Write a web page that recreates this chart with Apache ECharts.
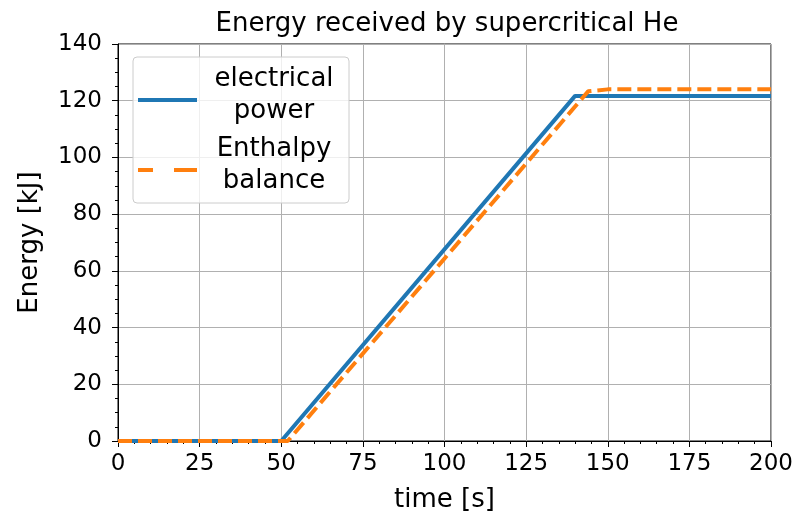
<!DOCTYPE html>
<html>
<head>
<meta charset="utf-8">
<script src="https://cdn.jsdelivr.net/npm/echarts@6/dist/echarts.min.js"></script>
<style>
  html, body { margin: 0; padding: 0; background: #fff; }
  #chart { width: 795px; height: 515px; }
</style>
</head>
<body>
<div id="chart"></div>
<script>
// values
const elecTime = [0, 50, 140, 200]
const elecEnergy = [0, 0, 121.7, 121.7]
const enthTime = [0, 52, 144, 150, 200]
const enthEnergy = [0, 0, 123.3, 124, 124]
const seriesNames = ['electrical\npower', 'Enthalpy\nbalance']

const font = 'DejaVu Sans'
const myChart = echarts.init(document.getElementById('chart'))

function pairs(xs, ys) {
  return xs.map(function(x, i) { return [x, ys[i]] })
}

const option = {
  animation: false,
  backgroundColor: '#fff',
  title: {
    text: 'Energy received by supercritical He',
    left: 442,
    textAlign: 'center',
    top: 6,
    textStyle: { fontFamily: font, fontSize: 26, fontWeight: 'normal', color: '#000' }
  },
  grid: {
    left: 118,
    right: 24,
    top: 44,
    bottom: 74,
    outerBoundsMode: 'none',
    containLabel: false,
    show: true,
    borderColor: '#000',
    borderWidth: 1
  },
  legend: {
    orient: 'vertical',
    left: 133,
    top: 57,
    padding: [6, 3, 6, 5],
    itemWidth: 59,
    itemHeight: 14,
    itemGap: 6,
    backgroundColor: 'rgba(255,255,255,0.8)',
    borderColor: '#cccccc',
    borderWidth: 1,
    borderRadius: 4,
    formatter: function(name) {
      return name.split('\n').map(function(s) { return '{t|' + s + '}' }).join('\n')
    },
    textStyle: {
      lineHeight: 32,
      rich: {
        t: { fontFamily: font, fontSize: 26, color: '#000', width: 144, align: 'center', lineHeight: 32, height: 32 }
      }
    },
    data: [
      { name: seriesNames[0], icon: 'path://M0,0H0.01V0.01H0Z M0,10H59V14H0Z', itemStyle: { color: '#1f77b4' } },
      { name: seriesNames[1], icon: 'path://M0,0H0.01V0.01H0Z M0,10H15V14H0Z M36,10H59V14H36Z', itemStyle: { color: '#ff7f0e' } }
    ]
  },
  xAxis: {
    type: 'value',
    min: 0,
    max: 200,
    interval: 25,
    name: 'time [s]',
    nameLocation: 'middle',
    nameGap: 46,
    nameTextStyle: { fontFamily: font, fontSize: 26, color: '#000' },
    axisLine: { lineStyle: { color: '#000', width: 1 } },
    axisTick: { show: true, length: 6, lineStyle: { color: '#000' } },
    minorTick: { show: true, splitNumber: 5, length: 3, lineStyle: { color: '#000' } },
    axisLabel: { fontFamily: font, fontSize: 23, color: '#000', margin: 12 },
    splitLine: { show: true, lineStyle: { color: '#b0b0b0', width: 1 } }
  },
  yAxis: {
    type: 'value',
    min: 0,
    max: 140,
    interval: 20,
    name: 'Energy [kJ]',
    nameLocation: 'middle',
    nameGap: 75,
    nameTextStyle: { fontFamily: font, fontSize: 26, color: '#000' },
    axisLine: { lineStyle: { color: '#000', width: 1 } },
    axisTick: { show: true, length: 6, lineStyle: { color: '#000' } },
    minorTick: { show: true, splitNumber: 4, length: 3, lineStyle: { color: '#000' } },
    axisLabel: { fontFamily: font, fontSize: 23, color: '#000', margin: 16 },
    splitLine: { show: true, lineStyle: { color: '#b0b0b0', width: 1 } }
  },
  series: [
    {
      name: seriesNames[0],
      type: 'line',
      data: pairs(elecTime, elecEnergy),
      symbol: 'none',
      color: '#1f77b4',
      lineStyle: { width: 4, color: '#1f77b4' }
    },
    {
      name: seriesNames[1],
      type: 'line',
      data: pairs(enthTime, enthEnergy),
      symbol: 'none',
      color: '#ff7f0e',
      lineStyle: { width: 4, color: '#ff7f0e', type: [14, 6] }
    }
  ]
}
myChart.setOption(option)
</script>
</body>
</html>
